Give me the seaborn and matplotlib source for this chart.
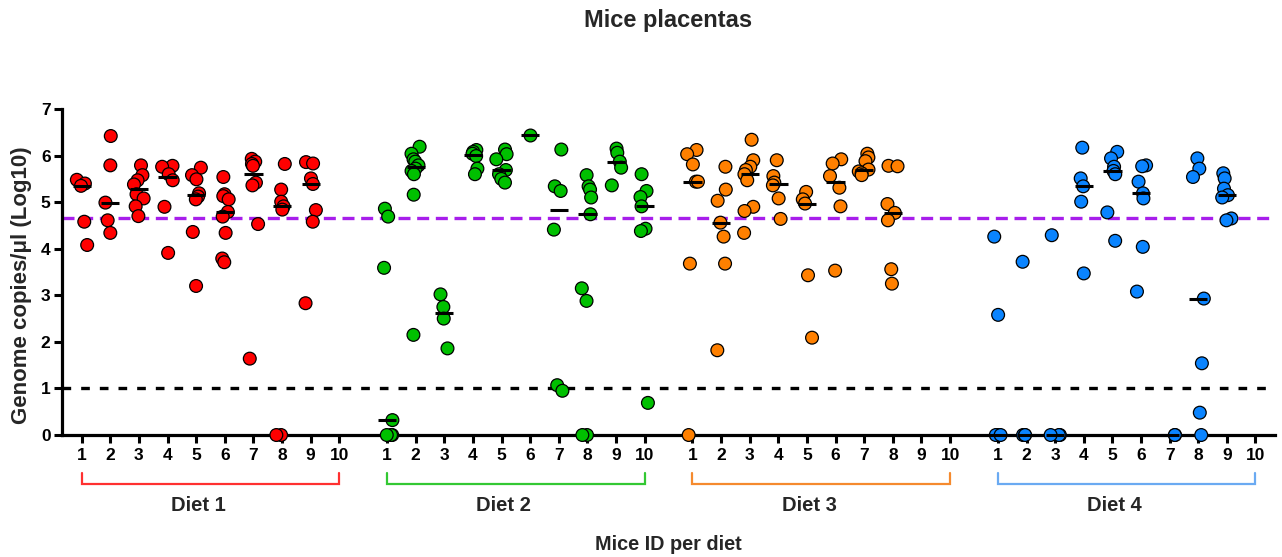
import numpy as np
import pandas as pd
import matplotlib
matplotlib.use("Agg")
import matplotlib.pyplot as plt
import matplotlib.transforms as mtransforms
import seaborn as sns

# ---- data: genome copies/µl (log10), one list per mouse (mice 1-10) ----
diets = ["Diet 1", "Diet 2", "Diet 3", "Diet 4"]
mouse_ids = list(range(1, 11))

diet1 = [
    [5.48, 5.40, 5.35, 4.58, 4.08],
    [6.42, 5.79, 4.99, 4.61, 4.34],
    [5.79, 5.58, 5.47, 5.38, 5.17, 5.08, 4.91, 4.70],
    [5.78, 5.76, 5.60, 5.47, 4.90, 3.91],
    [5.74, 5.58, 5.49, 5.19, 5.12, 5.06, 4.36, 3.20],
    [5.54, 5.17, 5.13, 5.06, 4.79, 4.69, 4.34, 3.79, 3.71],
    [5.93, 5.87, 5.82, 5.78, 5.42, 5.36, 4.53, 1.64],
    [5.82, 5.27, 5.01, 4.91, 4.84, 0.0, 0.0],
    [5.86, 5.83, 5.51, 5.39, 4.83, 4.58, 2.83],
    [],
]
diet2 = [
    [4.86, 4.69, 3.59, 0.32, 0.0, 0.0, 0.0],
    [6.19, 6.04, 5.92, 5.87, 5.79, 5.72, 5.67, 5.60, 5.16, 2.15],
    [3.02, 2.75, 2.50, 1.86],
    [6.12, 6.08, 6.04, 5.99, 5.72, 5.60],
    [6.13, 6.03, 5.92, 5.69, 5.60, 5.50, 5.42],
    [6.45],
    [6.13, 5.34, 5.24, 4.41, 1.07, 0.95],
    [5.58, 5.34, 5.27, 5.10, 4.74, 3.15, 2.88, 0.0, 0.0],
    [6.15, 6.06, 5.87, 5.74, 5.36],
    [5.60, 5.24, 5.11, 4.91, 4.43, 4.38, 0.69],
]
diet3 = [
    [6.12, 6.03, 5.81, 5.44, 5.44, 3.68, 0.0],
    [5.76, 5.27, 5.03, 4.56, 4.26, 3.68, 1.82],
    [6.34, 5.90, 5.76, 5.69, 5.60, 5.47, 4.90, 4.81, 4.34],
    [5.90, 5.56, 5.42, 5.36, 5.08, 4.64],
    [5.22, 5.06, 4.97, 3.43, 2.09],
    [5.92, 5.83, 5.56, 5.31, 4.91, 3.53],
    [6.04, 5.96, 5.88, 5.70, 5.66, 5.62, 5.58],
    [5.78, 5.77, 4.96, 4.77, 4.61, 3.56, 3.25],
    [],
    [],
]
diet4 = [
    [4.26, 2.58, 0.0, 0.0, 0.0],
    [3.72, 0.0, 0.0, 0.0],
    [4.29, 0.0, 0.0, 0.0],
    [6.17, 5.51, 5.34, 5.01, 3.47],
    [6.08, 5.94, 5.76, 5.67, 5.60, 4.78, 4.17],
    [5.79, 5.77, 5.44, 5.19, 5.08, 4.04, 3.08],
    [0.0, 0.0],
    [5.94, 5.72, 5.54, 2.93, 1.54, 0.48, 0.0],
    [5.62, 5.51, 5.29, 5.15, 5.10, 4.65, 4.61],
    [],
]

cutoff_purple = 4.66
cutoff_black = 1.0

point_colors = ["#FF0000", "#00C000", "#FF8000", "#0A84FF"]
bracket_colors = ["#FF3030", "#33C833", "#F58A2E", "#6AAAF2"]

# ---- long-form table; diets are laid out side by side with a gap ----
GROUP_STEP = 10.67
rows = []
for g, (name, mice) in enumerate(zip(diets, [diet1, diet2, diet3, diet4])):
    for m, vals in zip(mouse_ids, mice):
        for v in vals:
            rows.append({"diet": name, "mouse": m,
                         "pos": g * GROUP_STEP + m - 1, "copies": v})
df = pd.DataFrame(rows)
slot_pos = [g * GROUP_STEP + m - 1 for g in range(len(diets)) for m in mouse_ids]

sns.set_theme(style="ticks")
plt.rcParams["font.family"] = ["Liberation Sans", "DejaVu Sans"]
plt.rcParams["font.weight"] = "bold"

fig = plt.figure(figsize=(12.82, 5.57), dpi=100)
ax = fig.add_axes([0.0481, 0.219, 0.9464, 0.5853])

# scatter of individual placentas with a narrow horizontal jitter
np.random.seed(7)
sns.stripplot(data=df, x="pos", y="copies", hue="diet",
              palette=dict(zip(diets, point_colors)), native_scale=True,
              jitter=0.2, size=9.2, edgecolor="black", linewidth=0.9,
              legend=False, ax=ax, zorder=3)
for coll in ax.collections:
    coll.set_clip_on(False)

# median bar per mouse
med = df.groupby("pos")["copies"].median()
ax.hlines(med.values, med.index - 0.32, med.index + 0.32,
          color="black", lw=2.2, zorder=4, clip_on=False)

# detection thresholds
ax.axhline(cutoff_purple, color="#A71EEB", lw=2.4, dashes=(3.6, 2.0), zorder=2)
ax.axhline(cutoff_black, color="black", lw=2.4, dashes=(2.6, 3.0), zorder=2)

ax.set_xlim(-0.70, slot_pos[-1] + 0.68)
ax.set_ylim(0, 7)
ax.set_yticks(range(0, 8))
ax.set_xticks(slot_pos)
ax.set_xticklabels([str(m) for _ in diets for m in mouse_ids])
ax.set_xlabel("")
ax.set_ylabel("")

for side in ["top", "right"]:
    ax.spines[side].set_visible(False)
for side in ["left", "bottom"]:
    ax.spines[side].set_linewidth(2.3)
    ax.spines[side].set_color("black")
ax.tick_params(axis="both", length=6, width=2.2, color="black",
               labelsize=12.5, labelcolor="black")
ax.tick_params(axis="y", pad=2)
ax.tick_params(axis="x", pad=3)
for lab in ax.get_xticklabels() + ax.get_yticklabels():
    lab.set_fontweight("bold")

# diet brackets under the mouse ids
trans = mtransforms.blended_transform_factory(ax.transData, ax.transAxes)
for g, name in enumerate(diets):
    x0 = g * GROUP_STEP
    x1 = x0 + 9
    ax.plot([x0, x0, x1, x1], [-0.117, -0.150, -0.150, -0.117],
            transform=trans, color=bracket_colors[g], lw=1.6,
            clip_on=False, solid_joinstyle="miter")
    ax.text((x0 + x1) / 2 - 0.42, -0.215, name, transform=trans,
            ha="center", va="center", fontsize=14.5, fontweight="bold")

fig.text(668 / 1282, 1 - 20 / 557, "Mice placentas", ha="center",
         va="center", fontsize=17, fontweight="bold")
fig.text(668 / 1282, 1 - 545 / 557, "Mice ID per diet", ha="center",
         va="center", fontsize=14.3, fontweight="bold")
fig.text(22 / 1282, 1 - 285 / 557, "Genome copies/\u03bcl (Log10)",
         ha="center", va="center", rotation=90, fontsize=16,
         fontweight="bold")

fig.savefig("out.png", dpi=100, facecolor="white")
